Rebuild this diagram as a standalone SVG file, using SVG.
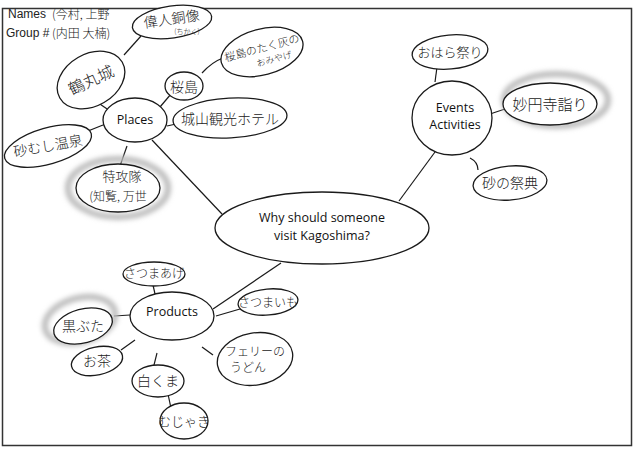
<svg xmlns="http://www.w3.org/2000/svg" width="637" height="450" viewBox="0 0 637 450">
<style>
.n{fill:#fff;stroke:#1a1a1a;stroke-width:1.3}
.c{fill:none;stroke:#1a1a1a;stroke-width:1.2}
.hl{fill:none;stroke:#bbb;stroke-width:6;filter:url(#blur)}
.en{font-family:"Open Sans","Liberation Sans",sans-serif;font-size:12.5px;fill:#111;text-anchor:middle}
.jp{font-family:"Noto Sans CJK JP",sans-serif;fill:#222;text-anchor:middle;font-weight:300}
.hw{font-family:"Liberation Sans",sans-serif;font-size:12px;fill:#222}
</style>
<defs><filter id="blur" x="-30%" y="-30%" width="160%" height="160%"><feGaussianBlur stdDeviation="2.5"/></filter></defs>
<rect x="0" y="0" width="637" height="450" fill="#fff"/>
<rect x="2.5" y="8.5" width="629" height="437" fill="none" stroke="#333" stroke-width="1.5"/>
<g id="connectors">
<line class="c" x1="152" y1="140" x2="222" y2="214"/>
<line class="c" x1="435" y1="152" x2="399" y2="201"/>
<line class="c" x1="213" y1="309" x2="281" y2="263"/>
<line class="c" x1="97" y1="102" x2="110" y2="111"/>
<line class="c" x1="124" y1="55" x2="141" y2="36"/>
<line class="c" x1="160" y1="107" x2="171" y2="94"/>
<path class="c" d="M202 73 Q212 62 223 58"/>
<line class="c" x1="167" y1="126" x2="176" y2="124"/>
<line class="c" x1="88" y1="131" x2="103" y2="125"/>
<line class="c" x1="127" y1="146" x2="120" y2="166"/>
<line class="c" x1="437" y1="67" x2="435" y2="82"/>
<line class="c" x1="490" y1="114" x2="505" y2="109"/>
<path class="c" d="M470 158 Q478 162 478 170"/>
<line class="c" x1="153" y1="285" x2="155" y2="294"/>
<line class="c" x1="114" y1="316" x2="130" y2="315"/>
<line class="c" x1="121" y1="350" x2="135" y2="340"/>
<line class="c" x1="153" y1="369" x2="157" y2="353"/>
<line class="c" x1="168" y1="394" x2="172" y2="413"/>
<line class="c" x1="216" y1="316" x2="240" y2="309"/>
<line class="c" x1="202" y1="347" x2="213" y2="355"/>
</g>
<g id="names">
<text class="hw" x="8" y="18">Names</text>
<text class="hw" x="6" y="37">Group #</text>
<text class="jp" x="52" y="19" font-size="12" style="text-anchor:start">(今村, 上野</text>
<text class="jp" x="52" y="38" font-size="12" style="text-anchor:start">(内田  大楠)</text>
</g>
<g id="center">
<ellipse class="n" cx="322" cy="228" rx="107" ry="36"/>
<text class="en" x="322" y="222">Why should someone</text>
<text class="en" x="322" y="240">visit Kagoshima?</text>
</g>
<g id="places">
<ellipse class="n" cx="135" cy="120" rx="32" ry="22"/>
<text class="en" x="135" y="124">Places</text>
</g>
<g id="events">
<ellipse class="n" cx="452" cy="118" rx="40" ry="37"/>
<text class="en" x="455" y="112">Events</text>
<text class="en" x="455" y="129">Activities</text>
</g>
<g id="products">
<ellipse class="n" cx="172" cy="316" rx="42" ry="24"/>
<text class="en" x="172" y="316">Products</text>
</g>
<g id="tsurumaru">
<ellipse class="n" cx="91" cy="80" rx="36" ry="26" transform="rotate(-30 91 80)"/>
<text class="jp" x="91" y="86" font-size="16" transform="rotate(-25 91 80)">鶴丸城</text>
</g>
<g id="ijin">
<ellipse class="n" cx="172" cy="22" rx="40" ry="16" transform="rotate(-8 172 22)"/>
<text class="jp" x="172" y="24" font-size="14" transform="rotate(-8 172 22)">偉人銅像</text>
<text class="jp" x="187" y="34" font-size="7">(ちかく)</text>
</g>
<g id="omiyage">
<ellipse class="n" cx="262" cy="52" rx="42" ry="23" transform="rotate(-15 262 52)"/>
<text class="jp" x="263" y="52" font-size="11" transform="rotate(-15 262 52)">桜島のたく灰の</text>
<text class="jp" x="272" y="65" font-size="9" transform="rotate(-15 262 52)">おみやげ</text>
</g>
<g id="sakurajima">
<ellipse class="n" cx="184" cy="86" rx="19" ry="14"/>
<text class="jp" x="184" y="92" font-size="14">桜島</text>
</g>
<g id="shiroyama">
<ellipse class="n" cx="230" cy="118" rx="57" ry="20" transform="rotate(-3 230 118)"/>
<text class="jp" x="230" y="124" font-size="14">城山観光ホテル</text>
</g>
<g id="sunamushi">
<ellipse class="n" cx="48" cy="146" rx="45" ry="18" transform="rotate(-16 48 146)"/>
<text class="jp" x="48" y="151" font-size="14" transform="rotate(-10 48 146)">砂むし温泉</text>
</g>
<g id="tokkoutai">
<ellipse class="hl" cx="118" cy="188" rx="50" ry="29"/>
<ellipse class="n" cx="118" cy="188" rx="42" ry="24"/>
<text class="jp" x="122" y="181" font-size="13">特攻隊</text>
<text class="jp" x="118" y="201" font-size="12">(知覧, 万世</text>
</g>
<g id="ohara">
<ellipse class="n" cx="450" cy="52" rx="38" ry="17" transform="rotate(-5 450 52)"/>
<text class="jp" x="450" y="57" font-size="13">おはら祭り</text>
</g>
<g id="myoenji">
<ellipse class="hl" cx="556" cy="100" rx="52" ry="26"/>
<ellipse class="n" cx="550" cy="104" rx="47" ry="21"/>
<text class="jp" x="550" y="110" font-size="15">妙円寺詣り</text>
</g>
<g id="sunanosaiten">
<ellipse class="n" cx="510" cy="183" rx="37" ry="17" transform="rotate(-5 510 183)"/>
<text class="jp" x="510" y="188" font-size="14">砂の祭典</text>
</g>
<g id="satsumaage">
<ellipse class="n" cx="154" cy="274" rx="31" ry="12"/>
<text class="jp" x="154" y="278" font-size="12">さつまあげ</text>
</g>
<g id="kurobuta">
<ellipse class="hl" cx="80" cy="320" rx="36" ry="22" transform="rotate(-15 80 320)"/>
<ellipse class="n" cx="83" cy="326" rx="30" ry="17" transform="rotate(-15 83 326)"/>
<text class="jp" x="83" y="331" font-size="14">黒ぶた</text>
</g>
<g id="ocha">
<ellipse class="n" cx="97" cy="361" rx="26" ry="14" transform="rotate(-12 97 361)"/>
<text class="jp" x="97" y="366" font-size="14">お茶</text>
</g>
<g id="shirokuma">
<ellipse class="n" cx="158" cy="381" rx="26" ry="16"/>
<text class="jp" x="158" y="386" font-size="14">白くま</text>
</g>
<g id="mujaki">
<ellipse class="n" cx="184" cy="421" rx="24" ry="18"/>
<text class="jp" x="184" y="426" font-size="13">むじゃき</text>
</g>
<g id="satsumaimo">
<ellipse class="n" cx="268" cy="302" rx="30" ry="13" transform="rotate(-5 268 302)"/>
<text class="jp" x="268" y="307" font-size="12">さつまいも</text>
</g>
<g id="ferry">
<ellipse class="n" cx="255" cy="359" rx="38" ry="26" transform="rotate(-10 255 359)"/>
<text class="jp" x="255" y="356" font-size="12">フェリーの</text>
<text class="jp" x="248" y="372" font-size="12">うどん</text>
</g>
</svg>
